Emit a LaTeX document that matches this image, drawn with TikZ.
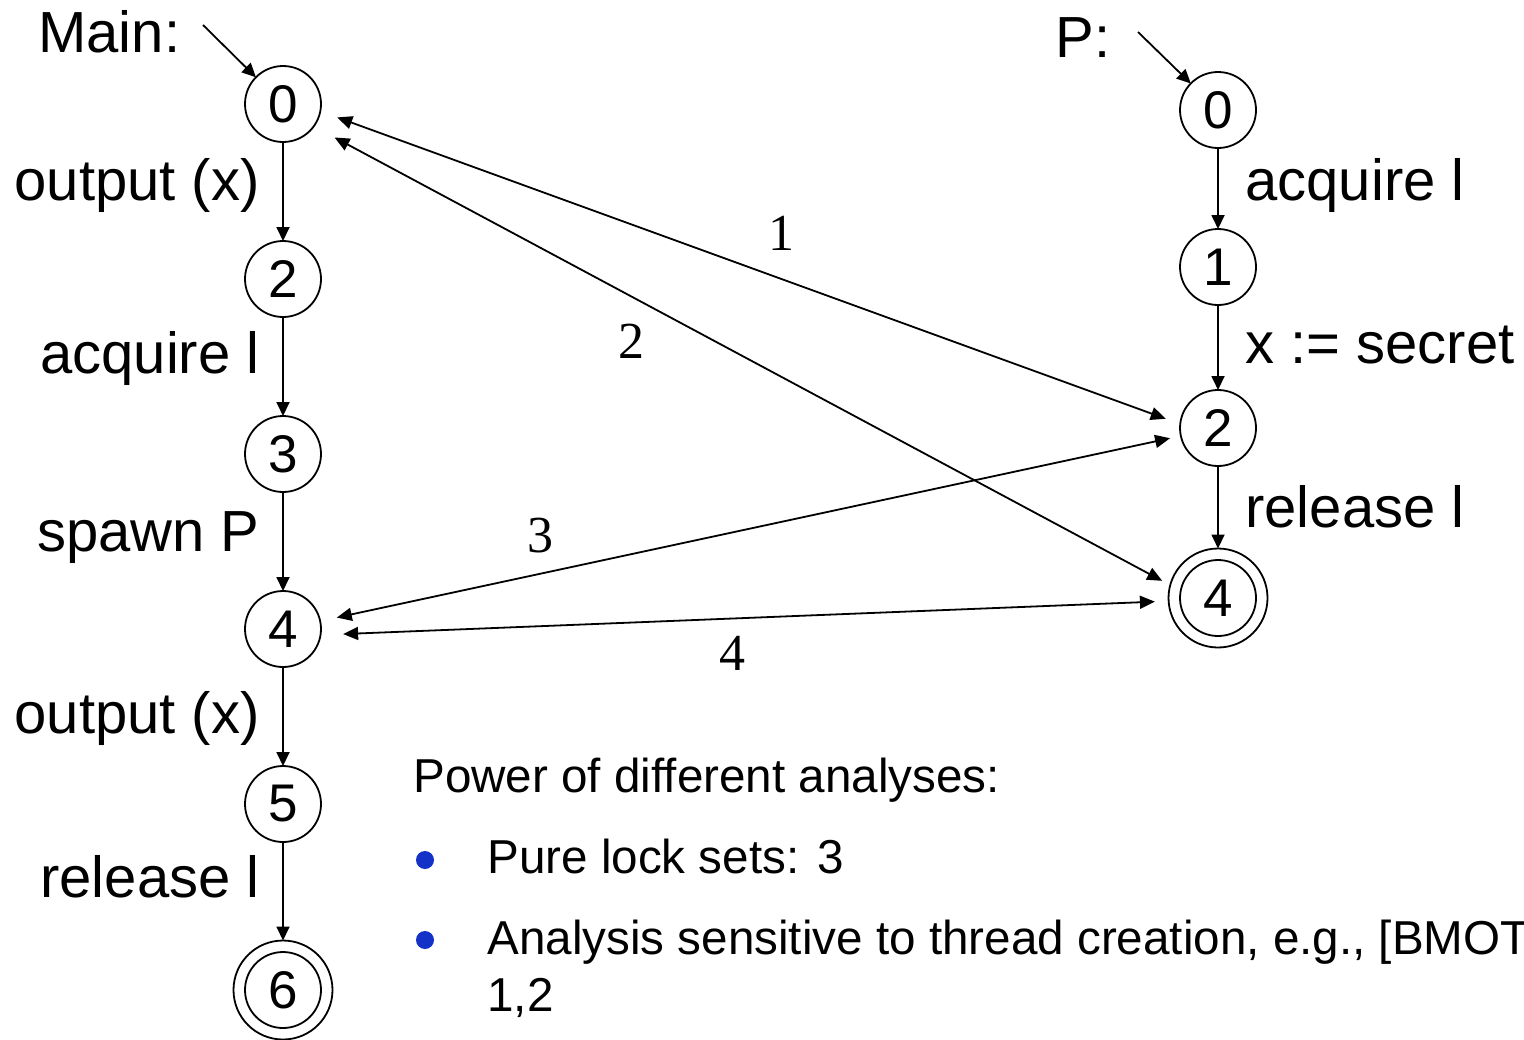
\documentclass[tikz,border=0pt]{standalone}
\usepackage{fontspec}
\setmainfont{Liberation Sans}
\newfontfamily\serifnum{Liberation Serif}
\usetikzlibrary{arrows.meta}
\definecolor{bulletblue}{RGB}{20,50,200}
\begin{document}
\begin{tikzpicture}[x=0.5pt,y=-0.5pt,
 st/.style={circle,draw,line width=0.9pt,minimum size=38pt,inner sep=0pt,outer sep=0pt,font=\fontsize{26.5pt}{26.5pt}\selectfont},
 ring/.style={circle,draw,line width=0.9pt,minimum size=49.5pt,inner sep=0pt,outer sep=0pt},
 lbl/.style={inner sep=0pt,font=\fontsize{29pt}{30pt}\selectfont},
 num/.style={inner sep=0pt,anchor=base,font=\serifnum\fontsize{26pt}{26pt}\selectfont},
 txt/.style={inner sep=0pt,anchor=base west,font=\fontsize{23.8pt}{24pt}\selectfont},
 bul/.style={circle,fill=bulletblue,minimum size=9pt,inner sep=0pt},
 trans/.style={line width=0.9pt,-{Triangle[length=7pt,width=6.5pt]}},
 both/.style={line width=0.9pt,{Triangle[length=7.5pt,width=6.5pt]}-{Triangle[length=7.5pt,width=6.5pt]}}]
\useasboundingbox (0,0) rectangle (1524,1039);
% Main thread states
\node[st] (m0) at (283,104) {0};
\node[st] (m2) at (283,279) {2};
\node[st] (m3) at (283,454) {3};
\node[st] (m4) at (283,629) {4};
\node[st] (m5) at (283,804) {5};
\node[st] (m6) at (283,990) {6};
\node[ring] (m6o) at (283,990) {};
% P thread states
\node[st] (p0) at (1218,110) {0};
\node[st] (p1) at (1218,267) {1};
\node[st] (p2) at (1218,428) {2};
\node[st] (p4) at (1218,598) {4};
\node[ring] (p4o) at (1218,598) {};
% titles
\node[lbl,anchor=base west] (tmain) at (38,52) {Main:};
\node[lbl,anchor=base west] (tp) at (1055,57) {P:};
\coordinate (ms) at (203,25);
\coordinate (ps) at (1138,32);
\draw[trans] (ms) -- (m0);
\draw[trans] (ps) -- (p0);
% main transitions
\draw[trans] (m0) -- (m2);
\draw[trans] (m2) -- (m3);
\draw[trans] (m3) -- (m4);
\draw[trans] (m4) -- (m5);
\draw[trans] (m5) -- (m6o);
\node[lbl,anchor=base east] (l1) at (260,200) {output (x)};
\node[lbl,anchor=base east] (l2) at (260,373) {acquire l};
\node[lbl,anchor=base east] (l3) at (260,551) {spawn P};
\node[lbl,anchor=base east] (l4) at (260,733) {output (x)};
\node[lbl,anchor=base east] (l5) at (260,897) {release l};
% P transitions
\draw[trans] (p0) -- (p1);
\draw[trans] (p1) -- (p2);
\draw[trans] (p2) -- (p4o);
\node[lbl,anchor=base west] (r1) at (1245,200) {acquire l};
\node[lbl,anchor=base west] (r2) at (1245,363) {x := secret};
\node[lbl,anchor=base west] (r3) at (1245,527) {release l};
% cross edges
\draw[both,shorten <=9pt,shorten >=7.7pt] (m0.349) -- (p2.174);
\draw[both,shorten <=11.8pt,shorten >=10.5pt] (m0.324) -- (p4.169);
\draw[both,shorten <=8.5pt,shorten >=5.5pt] (m4.12) -- (p2.192);
\draw[both,shorten <=11.3pt,shorten >=12.6pt] (m4.351) -- (p4.184);
\node[num] (n1) at (781,250) {1};
\node[num] (n2) at (631,358) {2};
\node[num] (n3) at (540,552) {3};
\node[num] (n4) at (732,670) {4};
% bottom text
\node[txt] (pw) at (413,792) {Power of different analyses:};
\node[bul] (b1) at (425,860) {};
\node[bul] (b2) at (425,940) {};
\node[txt] (t1) at (487,873) {Pure lock sets: 3};
\node[txt] (t2) at (487,954) {Analysis sensitive to thread creation, e.g., [BMOT};
\node[txt] (t3) at (487,1011) {1,2};
\end{tikzpicture}
\end{document}
